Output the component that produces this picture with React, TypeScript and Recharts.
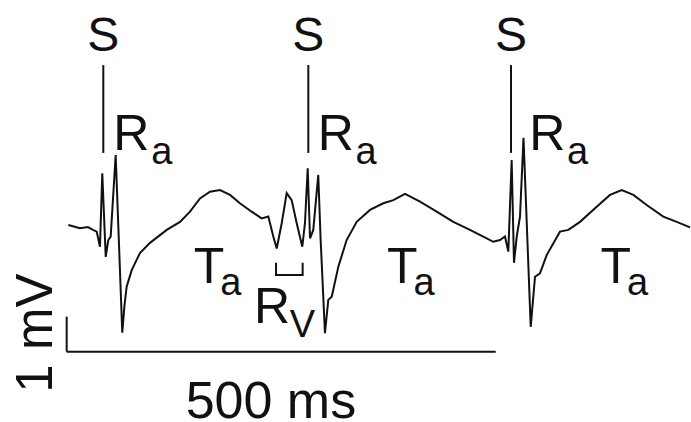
import { ComposedChart, Line, Scatter, XAxis, YAxis, ReferenceLine } from "recharts"

// trace: time in ms (0 = start of scale bar), voltage in mV
const timeMs = [
  1.9, 15.5, 24.8, 30.7, 35.0, 38.8, 41.5, 45.5, 48.5, 51.3, 57.1, 64.8, 67.4, 69.9, 75.8, 85.4,
  97.1, 116.6, 132.1, 143.7, 155.4, 167.0, 178.7, 190.4, 201.9, 215.6, 227.3, 235.0, 240.8, 244.8,
  250.6, 256.4, 262.2, 268.1, 274.6, 277.7, 280.9, 283.6, 287.4, 293.2, 296.0, 301.0, 304.9, 308.9,
  316.6, 326.3, 338.0, 353.5, 369.0, 380.7, 394.3, 411.8, 431.2, 450.6, 470.0, 485.5, 497.2, 505.0,
  510.8, 514.7, 518.6, 521.3, 524.5, 528.3, 532.4, 540.8, 545.8, 551.6, 559.4, 574.9, 584.6, 598.3,
  617.7, 633.2, 646.9, 660.4, 676.0, 695.3, 711.0, 726.5,
]
const voltageMv = [
  0.12, 0.03, 0.06, -0.02, -0.07, -0.5, 1.6, -0.79, -0.31, -0.21, 2.12, -2.96, -2.17, -1.64, -1.17, -0.68,
  -0.39, -0.02, 0.21, 0.5, 0.88, 1.07, 1.12, 0.98, 0.74, 0.5, 0.31, 0.36, -0.21, -0.55,
  0.17, 1.03, 0.83, 0.17, -0.5, 0.17, 1.74, -0.26, -0.02, 1.55, -0.31, -2.97, -2.02, -1.93,
  -1.07, -0.31, 0.21, 0.55, 0.74, 0.83, 1.01, 0.79, 0.5, 0.21, -0.02, -0.21, -0.36, -0.31,
  -0.21, -0.64, 1.98, -0.96, -0.21, 0.36, 2.61, -2.79, -1.36, -1.26, -0.74, -0.07, -0.02, 0.21,
  0.64, 0.98, 1.12, 0.98, 0.69, 0.36, 0.21, 0.05,
]

// annotations (ms / mV)
const sMarkMs = [42.7, 281.6, 517.8]
const sMarkRange = [2.18, 4.69]
const raLabelMs = [54.4, 292.5, 539.0]
const taLabelMs = [148.2, 373.4, 622.1]
const rvLabelMs = 218.3
const rvWindowMs = [244, 275]
const rvWindowMv = [-0.96, -1.31]
const scaleMs = 500
const scaleMv = 1
const scaleBaseMv = -3.5

const trace = timeMs.map((t, i) => ({ t, v: voltageMv[i] }))
const bracket = [
  { t: rvWindowMs[0], v: rvWindowMv[0] },
  { t: rvWindowMs[0], v: rvWindowMv[1] },
  { t: rvWindowMs[1], v: rvWindowMv[1] },
  { t: rvWindowMs[1], v: rvWindowMv[0] },
]

const labels = [
  ...sMarkMs.map((t) => ({ t, v: 5.09, kind: "s", main: "S", sub: "" })),
  ...raLabelMs.map((t) => ({ t, v: 2.26, kind: "ra", main: "R", sub: "a" })),
  ...taLabelMs.map((t) => ({ t, v: -1.54, kind: "ta", main: "T", sub: "a" })),
  { t: rvLabelMs, v: -2.69, kind: "rv", main: "R", sub: "V" },
  { t: -17.1, v: -2.97, kind: "mv", main: "1 mV", sub: "" },
  { t: 238, v: -5.39, kind: "ms", main: "500 ms", sub: "" },
]

const font = "'Liberation Sans', Arial, sans-serif"
const ink = "#111"
const subOffset: Record<string, [number, number]> = {
  ra: [37.8, 14],
  ta: [26.5, 12],
  rv: [35.7, 13.4],
}

const LabelShape = (props: any) => {
  const { cx, cy, payload } = props
  const { kind, main, sub } = payload
  if (kind === "s") {
    return <text x={cx} y={cy} textAnchor="middle" fontSize={48} fontFamily={font} fill={ink}>{main}</text>
  }
  if (kind === "mv") {
    return (
      <text x={cx} y={cy} textAnchor="middle" fontSize={51} fontFamily={font} fill={ink}
        transform={`rotate(-90 ${cx} ${cy})`}>{main}</text>
    )
  }
  if (kind === "ms") {
    return <text x={cx} y={cy} textAnchor="middle" fontSize={52} fontFamily={font} fill={ink}>{main}</text>
  }
  const [dx, dy] = subOffset[kind]
  return (
    <g>
      <text x={cx} y={cy} fontSize={50} fontFamily={font} fill={ink}>{main}</text>
      <text x={cx + dx} y={cy + dy} fontSize={38} fontFamily={font} fill={ink}>{sub}</text>
    </g>
  )
}

export default function App() {
  return (
    <div style={{ position: "absolute", left: 0, top: 0, width: 691, height: 422, background: "#fff" }}>
      <ComposedChart width={691} height={422} margin={{ top: 0, right: 0, bottom: 0, left: 0 }}>
        <XAxis dataKey="t" type="number" domain={[-77.7, 727.6]} hide allowDataOverflow />
        <YAxis dataKey="v" type="number" domain={[-5.51, 6.55]} hide allowDataOverflow />
        <Line data={trace} dataKey="v" type="linear" stroke={ink} strokeWidth={2} dot={false} isAnimationActive={false} />
        <Line data={bracket} dataKey="v" type="linear" stroke={ink} strokeWidth={2} dot={false} isAnimationActive={false} />
        {sMarkMs.map((t) => (
          <ReferenceLine key={t} segment={[{ x: t, y: sMarkRange[0] }, { x: t, y: sMarkRange[1] }]}
            stroke={ink} strokeWidth={2} ifOverflow="visible" />
        ))}
        <ReferenceLine segment={[{ x: 0, y: scaleBaseMv }, { x: scaleMs, y: scaleBaseMv }]}
          stroke={ink} strokeWidth={2} ifOverflow="visible" />
        <ReferenceLine segment={[{ x: 0, y: scaleBaseMv }, { x: 0, y: scaleBaseMv + scaleMv }]}
          stroke={ink} strokeWidth={2} ifOverflow="visible" />
        <Scatter data={labels} dataKey="v" shape={LabelShape} isAnimationActive={false} />
      </ComposedChart>
    </div>
  )
}
